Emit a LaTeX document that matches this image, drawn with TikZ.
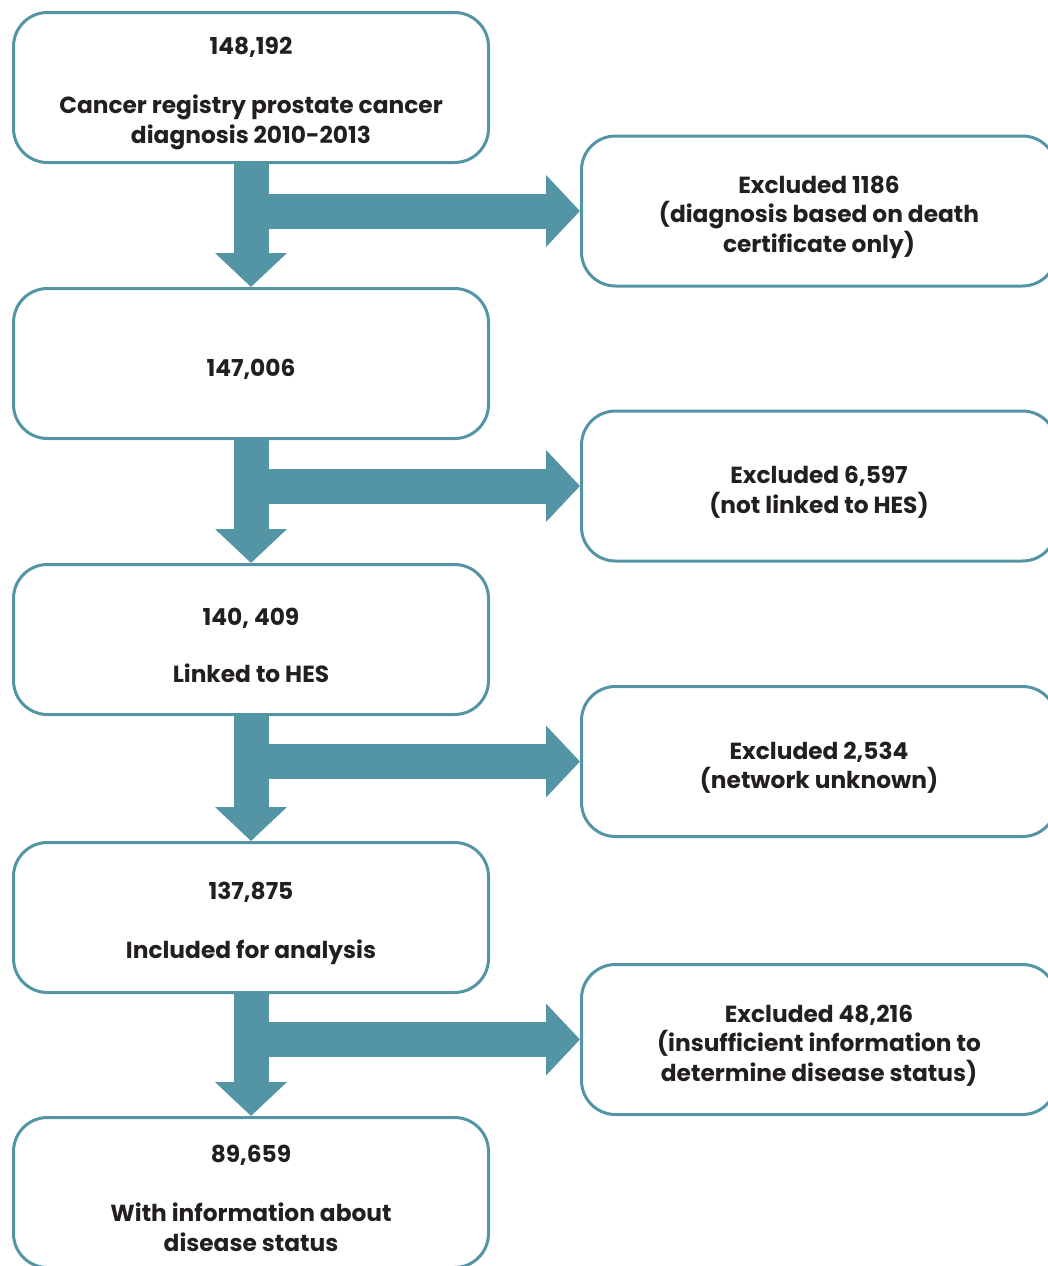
\documentclass[tikz,border=0pt]{standalone}
\usepackage{fontspec}
\setmainfont{Poppins}
\usetikzlibrary{positioning,arrows.meta,calc}
\definecolor{flowteal}{RGB}{83,149,165}
\definecolor{flowtext}{RGB}{35,31,32}
\newcommand\padtop{\mbox{}\\}
\tikzset{
    x=1pt,
    y=-1pt,
    stepbox/.style = {
        draw=flowteal,
        shape=rectangle,
        rounded corners=34pt,
        minimum height=150pt,
        minimum width=475pt,
        inner sep=0pt,
        line width=3pt,
        align=center,
        text=flowtext,
        font=\fontsize{23.3}{29.5}\selectfont\bfseries
    },
    blockarrow/.style = {
        draw=flowteal,
        line width=35pt,
        -{Triangle[width=70pt,length=34pt]},
        flowteal
    },
}
\begin{document}
\begin{tikzpicture}
            \useasboundingbox (0,0) rectangle (1048,1266);
            \clip (0,0) rectangle (1048,1266);

            % main flow
            \node[stepbox] (registry) at (251,87.5) {\padtop 148,192\\[29.5pt]Cancer registry prostate cancer\\diagnosis 2010-2013};
            \node[stepbox] (afterdco) at (251,363.5) {\padtop 147,006};
            \node[stepbox] (linked) at (251,639.5) {\padtop 140, 409\\[27.5pt]Linked to HES};
            \node[stepbox] (included) at (251,917.5) {\padtop 137,875\\[29.5pt]Included for analysis};
            \node[stepbox] (withstatus) at (251,1192.5) {\padtop 89,659\\[29.5pt]With information about\\disease status};

            % exclusions
            \node[stepbox] (exdco) at (819,211) {\padtop Excluded 1186\\(diagnosis based on death\\certificate only)};
            \node[stepbox] (exhes) at (819,486) {\padtop Excluded 6,597\\(not linked to HES)};
            \node[stepbox] (exnet) at (819,761.5) {\padtop Excluded 2,534\\(network unknown)};
            \node[stepbox] (exstatus) at (819,1039.5) {\padtop Excluded 48,216\\(insufficient information to\\determine disease status)};

            \draw[blockarrow] (registry.south) -- (afterdco.north);
            \draw[blockarrow] (afterdco.south) -- (linked.north);
            \draw[blockarrow] (linked.south) -- (included.north);
            \draw[blockarrow] (included.south) -- (withstatus.north);

            \draw[blockarrow] (registry.south |- exdco.west) -- (exdco.west);
            \draw[blockarrow] (afterdco.south |- exhes.west) -- (exhes.west);
            \draw[blockarrow] (linked.south |- exnet.west) -- (exnet.west);
            \draw[blockarrow] (included.south |- exstatus.west) -- (exstatus.west);

        \end{tikzpicture}
\end{document}
